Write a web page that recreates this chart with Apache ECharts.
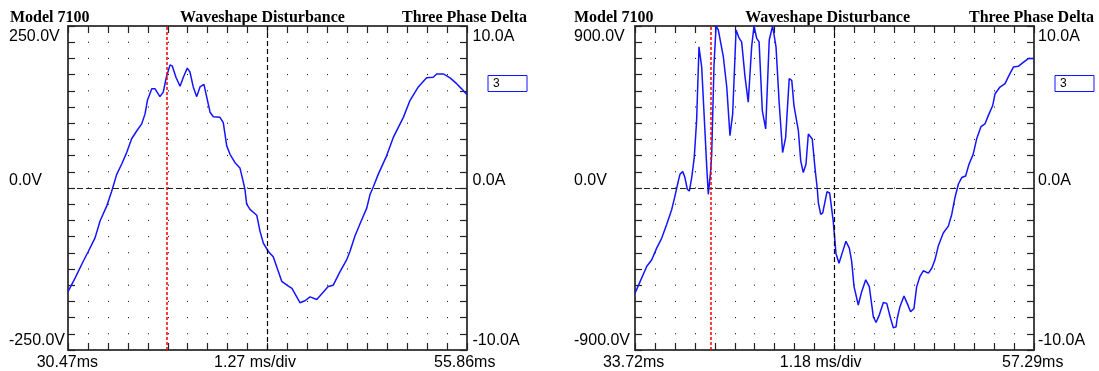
<!DOCTYPE html>
<html>
<head>
<meta charset="utf-8">
<title>Waveshape Disturbance</title>
<script src="https://cdn.jsdelivr.net/npm/echarts@6/dist/echarts.min.js"></script>
<style>
  html, body { margin: 0; padding: 0; background: #fff; }
  #chart { width: 1099px; height: 371px; }
</style>
</head>
<body>
<div id="chart"></div>
<script>
// shared header / scale texts
const titleTexts = ['Model 7100', 'Waveshape Disturbance', 'Three Phase Delta'];
const ampLabels = ['10.0A', '0.0A', '-10.0A'];
const channelName = '3';

// left capture
const leftRangeMs = [30.47, 55.86];
const leftVoltMax = 250;
const leftVoltLabels = ['250.0V', '0.0V', '-250.0V'];
const leftTimeLabels = ['30.47ms', '1.27 ms/div', '55.86ms'];
const leftCursorMs = 36.73;
const leftTimeMs = [30.47, 30.92, 31.44, 31.76, 32.19, 32.51, 32.93, 33.25, 33.57, 33.89,
  34.21, 34.52, 34.84, 35.16, 35.37, 35.52, 35.80, 36.01, 36.32, 36.53,
  36.71, 36.96, 37.11, 37.34, 37.60, 37.81, 38.06, 38.23, 38.44, 38.66,
  38.87, 39.12, 39.30, 39.51, 39.72, 40.14, 40.35, 40.57, 40.78, 41.10,
  41.41, 41.59, 41.73, 41.84, 42.05, 42.48, 42.69, 42.90, 43.22, 43.53,
  44.07, 44.47, 44.72, 45.23, 45.55, 45.87, 46.30, 47.03, 47.35, 47.78,
  48.20, 48.41, 48.73, 49.16, 49.48, 49.69, 49.90, 50.21, 50.75, 51.17,
  51.81, 52.23, 52.76, 53.29, 53.71, 53.93, 54.35, 54.78, 55.20, 55.52, 55.86];
const leftVolts = [-160, -139, -113, -98, -77, -51, -28, -5, 21, 37,
  55, 76, 88, 99, 114, 135, 153, 153, 141, 148,
  169, 190, 188, 171, 157, 171, 185, 179, 156, 141,
  156, 160, 140, 117, 110, 109, 101, 65, 52, 39,
  31, 13, -2, -25, -33, -42, -67, -85, -98, -106,
  -144, -151, -155, -177, -174, -168, -172, -152, -150, -129,
  -111, -98, -74, -49, -31, -10, 2, 21, 50, 78,
  109, 135, 156, 170, 171, 176, 176, 170, 161, 153, 144];

// right capture
const rightRangeMs = [33.72, 57.29];
const rightVoltMax = 900;
const rightVoltLabels = ['900.0V', '0.0V', '-900.0V'];
const rightTimeLabels = ['33.72ms', '1.18 ms/div', '57.29ms'];
const rightCursorMs = 38.19;
const rightTimeMs = [33.72, 34.02, 34.41, 34.71, 35.00, 35.30, 35.59, 35.89, 36.08, 36.28,
  36.38, 36.54, 36.67, 36.81, 36.93, 37.07, 37.22, 37.36, 37.50, 37.66,
  37.85, 37.96, 38.05, 38.19, 38.25, 38.39, 38.51, 38.64, 38.94, 39.14,
  39.33, 39.49, 39.69, 39.88, 40.02, 40.22, 40.41, 40.61, 40.75, 40.91,
  41.05, 41.24, 41.44, 41.65, 41.85, 42.05, 42.24, 42.44, 42.62, 42.83,
  42.98, 43.11, 43.37, 43.51, 43.66, 43.82, 43.96, 44.06, 44.19, 44.35,
  44.49, 44.55, 44.69, 44.81, 45.06, 45.22, 45.43, 45.59, 45.77, 45.99,
  46.18, 46.38, 46.52, 46.66, 46.91, 47.11, 47.35, 47.56, 47.80, 47.96,
  48.15, 48.39, 48.59, 48.82, 48.98, 49.14, 49.21, 49.37, 49.61, 49.80,
  50.00, 50.20, 50.36, 50.55, 50.75, 51.05, 51.25, 51.44, 51.63, 51.93,
  52.23, 52.43, 52.62, 52.82, 53.02, 53.25, 53.45, 53.70, 53.90, 54.16,
  54.39, 54.59, 54.85, 54.99, 55.28, 55.58, 55.77, 56.07, 56.36, 56.62,
  56.95, 57.29];
const rightVolts = [-585, -520, -436, -399, -334, -278, -203, -119, -45, 39,
  77, 91, 58, -7, -17, 58, 169, 375, 784, 672,
  319, 113, -35, 95, 188, 691, 900, 878, 728, 561,
  291, 412, 878, 831, 812, 617, 477, 784, 900, 831,
  812, 430, 328, 822, 900, 784, 468, 197, 281, 608,
  598, 458, 319, 151, 86, 132, 300, 309, 272, 113,
  -7, -82, -147, -138, -21, -28, -184, -362, -418, -352,
  -296, -334, -408, -548, -650, -576, -510, -548, -716, -747,
  -706, -636, -641, -725, -777, -771, -725, -660, -600, -641,
  -688, -669, -548, -492, -460, -473, -446, -399, -324, -250,
  -212, -147, -54, 21, 58, 67, 132, 188, 272, 341,
  356, 402, 458, 524, 561, 580, 617, 672, 676, 695,
  719, 719];

const DIVS = 20;
const PLOT_TOP = 26;
const PLOT_W = 399;
const PLOT_H = 324;
const BLUE = '#1414ff';
const SANS = '16px "Liberation Sans", Arial, sans-serif';
const SERIF = 'bold 16px "Liberation Serif", "Times New Roman", serif';

const panels = [
  { left: 68, range: leftRangeMs, vmax: leftVoltMax, volts: leftVoltLabels, times: leftTimeLabels,
    cursor: leftCursorMs, t: leftTimeMs, v: leftVolts,
    titleX: [10, 262.5, 527], voltX: 9, ampX: 472.5, timeX: [67.4, 255, 464.7], legendLeft: 483 },
  { left: 635, range: rightRangeMs, vmax: rightVoltMax, volts: rightVoltLabels, times: rightTimeLabels,
    cursor: rightCursorMs, t: rightTimeMs, v: rightVolts,
    titleX: [574, 827.6, 1094], voltX: 574, ampX: 1038, timeX: [633.6, 820.7, 1032.7], legendLeft: 1050 }
];
const labelY = [36.4, 180.5, 340.6];
const titleY = 18;
const timeY = 363;

function divAxis(gridIndex, position, dots) {
  return {
    type: 'value', gridIndex, position, min: 0, max: DIVS, interval: 1,
    axisLine: { show: true, onZero: false, lineStyle: { color: '#444', width: 2 } },
    axisTick: { show: true, inside: true, length: 7, lineStyle: { color: '#222', width: 1.2 } },
    axisLabel: { show: false },
    splitLine: {
      show: dots,
      lineStyle: { color: '#000', width: 1, type: [1, PLOT_H / DIVS - 1], dashOffset: 0.5 }
    }
  };
}

function sideAxis(gridIndex, position, max) {
  return {
    type: 'value', gridIndex, position, min: -max, max: max, interval: max / 10,
    axisLine: { show: true, onZero: false, lineStyle: { color: '#444', width: 2 } },
    axisTick: { show: true, inside: true, length: 7, lineStyle: { color: '#222', width: 1.2 } },
    axisLabel: { show: false },
    splitLine: { show: false }
  };
}

function text(str, x, y, align, font) {
  return {
    type: 'text', x, y, silent: true,
    style: { text: str, font, fill: '#000', align, textAlign: align, verticalAlign: 'middle', textVerticalAlign: 'middle' }
  };
}

const grid = [], xAxis = [], yAxis = [], series = [], graphic = [], legend = [];

panels.forEach((p, i) => {
  grid.push({ left: p.left, top: PLOT_TOP, width: PLOT_W, height: PLOT_H });
  xAxis.push(divAxis(i, 'bottom', true));
  xAxis.push(divAxis(i, 'top', false));
  xAxis.push({ type: 'value', gridIndex: i, min: p.range[0], max: p.range[1], show: false });
  yAxis.push(sideAxis(i, 'left', p.vmax));
  yAxis.push(sideAxis(i, 'right', 10));

  series.push({
    name: channelName, type: 'line', xAxisIndex: i * 3 + 2, yAxisIndex: i * 2,
    data: p.t.map((t, k) => [t, p.v[k]]),
    showSymbol: false, clip: true, animation: false, z: 3,
    lineStyle: { color: BLUE, width: 1.5 }, itemStyle: { color: BLUE },
    markLine: {
      silent: true, symbol: 'none', animation: false, label: { show: false },
      data: [
        { xAxis: (p.range[0] + p.range[1]) / 2, lineStyle: { color: '#000', type: [5, 3], width: 1.2 } },
        { yAxis: 0, lineStyle: { color: '#222', type: [6, 3], width: 1.2 } },
        { xAxis: p.cursor, lineStyle: { color: '#ff0000', type: [3, 2], width: 1.5 } }
      ]
    }
  });

  legend.push({
    left: p.legendLeft, top: 75, padding: 0, data: [channelName], selectedMode: false,
    icon: 'rect', itemWidth: 0, itemHeight: 0, itemGap: 0,
    textStyle: {
      fontSize: 12, fontFamily: '"Liberation Sans", Arial, sans-serif', color: '#000',
      borderColor: BLUE, borderWidth: 1, width: 34, height: 14, lineHeight: 14, padding: [1, 0, 1, 5]
    }
  });

  graphic.push(text(titleTexts[0], p.titleX[0], titleY, 'left', SERIF));
  graphic.push(text(titleTexts[1], p.titleX[1], titleY, 'center', SERIF));
  graphic.push(text(titleTexts[2], p.titleX[2], titleY, 'right', SERIF));
  p.volts.forEach((s, k) => graphic.push(text(s, p.voltX, labelY[k], 'left', SANS)));
  ampLabels.forEach((s, k) => graphic.push(text(s, p.ampX, labelY[k], 'left', SANS)));
  p.times.forEach((s, k) => graphic.push(text(s, p.timeX[k], timeY, 'center', SANS)));
});

const chart = echarts.init(document.getElementById('chart'), null, { renderer: 'canvas' });
chart.setOption({
  backgroundColor: '#fff',
  animation: false,
  grid, xAxis, yAxis, series, legend, graphic
});
window.addEventListener('resize', () => chart.resize());
</script>
</body>
</html>
